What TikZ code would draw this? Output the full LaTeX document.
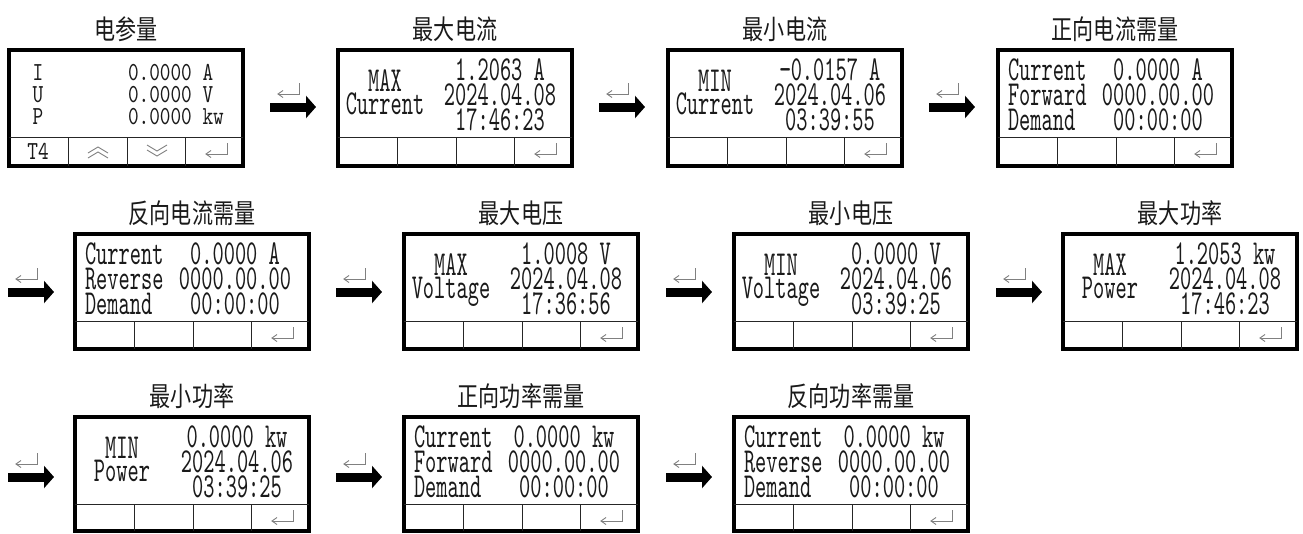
\documentclass[tikz,border=0pt]{standalone}
\usepackage{fontspec}
\usetikzlibrary{arrows.meta}
\newfontfamily\cjkfont[FakeStretch=0.78]{Noto Sans CJK SC}
\newfontfamily\lcdfont[FakeStretch=0.61,Extension=.otf]{lmmono10-regular}
\newfontfamily\lcdsmallfont[FakeStretch=0.78,Extension=.otf]{lmmono10-regular}
\definecolor{txt}{HTML}{1A1A1A}
\definecolor{icon}{HTML}{808080}
\tikzset{
 frame/.style={draw=black,line width=3.6pt,inner sep=0pt,outer sep=0pt},
 divline/.style={draw=black!85,line width=1pt},
 retline/.style={draw=icon,line width=0.9pt},
 lcdtxt/.style={inner sep=0pt,outer sep=0pt,text=txt,font=\lcdfont\fontsize{35}{35}\selectfont},
 lcdsmall/.style={inner sep=0pt,outer sep=0pt,text=txt,font=\lcdsmallfont\fontsize{26}{26}\selectfont},
 ttl/.style={inner sep=0pt,outer sep=0pt,text=txt,font=\cjkfont\fontsize{27}{27}\selectfont},
 bigarrow/.style={line width=9pt,draw=black,-{Triangle[length=10pt,width=22pt]}},
}
% return symbol: #1 = x of left tip, #2 = y of horizontal stroke
\newcommand\retsym[2]{%
 \draw[retline] (#1+21,#2-11) -- (#1+21,#2) -- (#1,#2);
 \draw[retline] (#1+5,#2-3.5) -- (#1,#2) -- (#1+5,#2+3.5);
}
% frame: name, L, T, H, title
\newcommand\lcdframe[5]{%
 \node[frame,minimum width=234pt,minimum height=#4pt,anchor=north west] (#1) at (#2,#3) {};
 \draw[divline] (#2,#3+87) -- (#2+234,#3+87);
 \foreach \dx in {59,118,176} {\draw[divline] (#2+\dx,#3+87) -- (#2+\dx,#3+#4);}
 \retsym{#2+197}{#3+104}
 \node[ttl] (#1-t) at (#2+117,#3-21) {#5};
}
% max/min text: name, L, T, lab1, lab2, v1, v2, v3
\newcommand\mmtext[8]{%
 \node[lcdtxt,anchor=base] (#1-a) at (#2+47,#3+41) {#4};
 \node[lcdtxt,anchor=base] (#1-b) at (#2+47,#3+64) {#5};
 \node[lcdtxt,anchor=base] (#1-c) at (#2+162,#3+30) {#6};
 \node[lcdtxt,anchor=base] (#1-d) at (#2+162,#3+55) {#7};
 \node[lcdtxt,anchor=base] (#1-e) at (#2+162,#3+80) {#8};
}
% demand text: name, L, T, direction, value
\newcommand\dmtext[5]{%
 \node[lcdtxt,anchor=base west] (#1-a) at (#2+10,#3+30) {Current};
 \node[lcdtxt,anchor=base west] (#1-b) at (#2+10,#3+55) {#4};
 \node[lcdtxt,anchor=base west] (#1-c) at (#2+10,#3+80) {Demand};
 \node[lcdtxt,anchor=base] (#1-d) at (#2+160,#3+30) {#5};
 \node[lcdtxt,anchor=base] (#1-e) at (#2+160,#3+55) {0000.00.00};
 \node[lcdtxt,anchor=base] (#1-f) at (#2+160,#3+80) {00:00:00};
}
% arrow: name, start x, y
\newcommand\flowarrow[3]{%
 \coordinate (#1s) at (#2,#3);
 \coordinate (#1e) at (#2+46,#3);
 \draw[bigarrow] (#1s) -- (#1e);
 \retsym{#2+8}{#3-13}
}
\begin{document}
\begin{tikzpicture}[x=1pt,y=-1pt]
\useasboundingbox (0,0) rectangle (1303,533);
\fill[white] (0,0) rectangle (1303,533);
% ---- row 1 ----
\lcdframe{p1}{9}{50}{116}{电参量}
\node[lcdsmall,anchor=base] (p1-i) at (38,80) {I};
\node[lcdsmall,anchor=base] (p1-u) at (38,102) {U};
\node[lcdsmall,anchor=base] (p1-p) at (38,124) {P};
\node[lcdsmall,anchor=base west] (p1-vi) at (128,80) {0.0000 A};
\node[lcdsmall,anchor=base west] (p1-vu) at (128,102) {0.0000 V};
\node[lcdsmall,anchor=base west] (p1-vp) at (128,124) {0.0000 kw};
\node[lcdsmall,anchor=base] (p1-t4) at (38,159) {T4};
\draw[retline] (88,153) -- (98,147) -- (108,153);
\draw[retline] (88,158) -- (98,152) -- (108,158);
\draw[retline] (147,145) -- (157,151) -- (167,145);
\draw[retline] (147,150) -- (157,156) -- (167,150);
\flowarrow{a1}{270}{107}
\lcdframe{p2}{338}{50}{116}{最大电流}
\mmtext{p2}{338}{50}{MAX}{Current}{1.2063 A}{2024.04.08}{17:46:23}
\flowarrow{a2}{599}{107}
\lcdframe{p3}{668}{50}{116}{最小电流}
\mmtext{p3}{668}{50}{MIN}{Current}{−0.0157 A}{2024.04.06}{03:39:55}
\flowarrow{a3}{929}{107}
\lcdframe{p4}{998}{50}{116}{正向电流需量}
\dmtext{p4}{998}{50}{Forward}{0.0000 A}
% ---- row 2 ----
\flowarrow{a4}{8}{292}
\lcdframe{p5}{75}{234}{115}{反向电流需量}
\dmtext{p5}{75}{234}{Reverse}{0.0000 A}
\flowarrow{a5}{336}{292}
\lcdframe{p6}{404}{234}{115}{最大电压}
\mmtext{p6}{404}{234}{MAX}{Voltage}{1.0008 V}{2024.04.08}{17:36:56}
\flowarrow{a6}{666}{292}
\lcdframe{p7}{734}{234}{115}{最小电压}
\mmtext{p7}{734}{234}{MIN}{Voltage}{0.0000 V}{2024.04.06}{03:39:25}
\flowarrow{a7}{996}{292}
\lcdframe{p8}{1063}{234}{115}{最大功率}
\mmtext{p8}{1063}{234}{MAX}{Power}{1.2053 kw}{2024.04.08}{17:46:23}
% ---- row 3 ----
\flowarrow{a8}{8}{477}
\lcdframe{p9}{75}{417}{114}{最小功率}
\mmtext{p9}{75}{417}{MIN}{Power}{0.0000 kw}{2024.04.06}{03:39:25}
\flowarrow{a9}{336}{477}
\lcdframe{p10}{404}{417}{114}{正向功率需量}
\dmtext{p10}{404}{417}{Forward}{0.0000 kw}
\flowarrow{a10}{666}{477}
\lcdframe{p11}{734}{417}{114}{反向功率需量}
\dmtext{p11}{734}{417}{Reverse}{0.0000 kw}
\end{tikzpicture}
\end{document}
